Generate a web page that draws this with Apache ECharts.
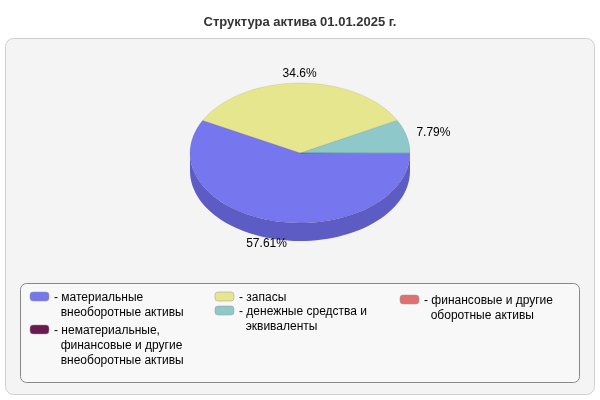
<!DOCTYPE html>
<html><head><meta charset="utf-8">
<script src="https://cdn.jsdelivr.net/npm/echarts@6/dist/echarts.min.js"></script>
<style>html,body{margin:0;background:#fff}#main{width:600px;height:400px}</style>
</head><body><div id="main"></div>
<script>
// slice order counterclockwise from east
var sliceNames = ['денежные средства и эквиваленты', 'запасы', 'материальные внеоборотные активы', 'финансовые и другие оборотные активы'];
var sliceValues = [7.79, 34.6, 57.61, 0.15];
var sliceLabels = ['7.79%', '34.6%', '57.61%', ''];
var sliceColors = ['#8ec8c8', '#e6e68f', '#7676ee', '#e07070'];
var sideColors = ['#6fa6a6', '#c0c06e', '#5c5cc4', '#c05050'];

var legendNames = ['материальные\nвнеоборотные активы', 'нематериальные,\nфинансовые и другие\nвнеоборотные активы', 'запасы', 'денежные средства и\nэквиваленты', 'финансовые и другие\nоборотные активы'];
var legendColors = ['#7676ee', '#6a1a50', '#e6e68f', '#8ec8c8', '#e07070'];
var legendPos = [[30, 292], [30, 325], [215, 292], [215, 306], [400, 295]];

var cx = 300, cy = 153, rx = 110, ry = 70, depth = 18;
var total = sliceValues.reduce(function (a, b) { return a + b; }, 0);
var starts = [], acc = 0;
sliceValues.forEach(function (v) { starts.push(acc); acc += v; });
var rows = sliceValues.map(function (v, i) { return [v, starts[i], i]; });

function pt(a, dy) { return [cx + rx * Math.cos(a), cy - ry * Math.sin(a) + (dy || 0)]; }

function renderItem(params, api) {
  var i = api.value(2);
  var a1 = api.value(1) / total * Math.PI * 2;
  var a2 = (api.value(1) + api.value(0)) / total * Math.PI * 2;
  var children = [];
  var top = [[cx, cy]];
  for (var k = 0; k <= 60; k++) top.push(pt(a1 + (a2 - a1) * k / 60));
  children.push({ type: 'polygon', z2: 2, shape: { points: top },
    style: { fill: sliceColors[i], stroke: 'rgba(0,0,0,0.15)', lineWidth: 0.5 } });
  var s1 = Math.max(a1, Math.PI), s2 = Math.min(a2, Math.PI * 2);
  if (s2 > s1) {
    var side = [], bot = [];
    for (var k = 0; k <= 60; k++) {
      var a = s1 + (s2 - s1) * k / 60;
      side.push(pt(a)); bot.unshift(pt(a, depth));
    }
    children.push({ type: 'polygon', z2: 1, shape: { points: side.concat(bot) },
      style: { fill: sideColors[i] } });
  }
  if (sliceLabels[i]) {
    var m = (a1 + a2) / 2;
    var p = [cx + rx * 1.25 * Math.cos(m), cy - ry * 1.22 * Math.sin(m)];
    if (Math.sin(m) < 0) p[1] += depth - 10;
    if (Math.sin(m) > 0.9) p[1] += 6;
    children.push({ type: 'text', z2: 3, x: p[0], y: p[1],
      style: { text: sliceLabels[i], fill: '#000', font: '12px Arial, Liberation Sans', align: 'center', verticalAlign: 'middle' } });
  }
  return { type: 'group', children: children };
}

var graphics = [
  { type: 'rect', z: -10, shape: { x: 5.5, y: 38.5, width: 589, height: 356, r: 8 },
    style: { fill: '#f4f4f4', stroke: '#cfcfcf' } },
  { type: 'rect', z: -9, shape: { x: 20.5, y: 283.5, width: 559, height: 99, r: 6 },
    style: { fill: '#f8f8f8', stroke: '#888' } }
];
legendNames.forEach(function (n, i) {
  graphics.push({ type: 'rect', shape: { x: legendPos[i][0], y: legendPos[i][1], width: 19, height: 9, r: 3 },
    style: { fill: legendColors[i], stroke: '#999', lineWidth: 0.5 } });
  graphics.push({ type: 'text', x: legendPos[i][0] + 24, y: legendPos[i][1] - 2,
    style: { text: '- ' + n.replace(/\n/g, '\n  '), fill: '#000', font: '12px Arial, Liberation Sans', lineHeight: 15 } });
});

var myChart = echarts.init(document.getElementById('main'));
myChart.setOption({
  animation: false,
  title: { text: 'Структура актива 01.01.2025 г.', left: 'center', top: 11,
    textStyle: { fontSize: 13, fontWeight: 'bold', color: '#333', fontFamily: 'Arial, Liberation Sans' } },
  graphic: graphics,
  series: [{ type: 'custom', coordinateSystem: 'none', renderItem: renderItem, data: rows }]
});
</script></body></html>
